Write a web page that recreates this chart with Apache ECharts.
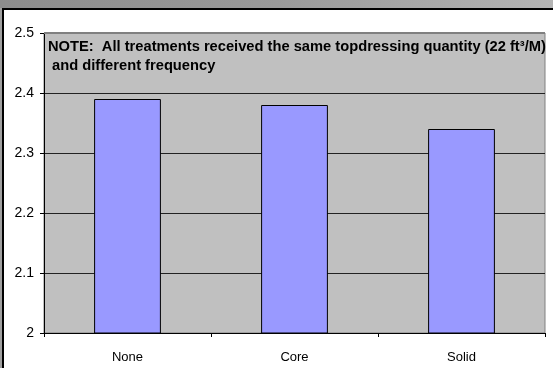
<!DOCTYPE html>
<html>
<head>
<meta charset="utf-8">
<script src="https://cdn.jsdelivr.net/npm/echarts@6/dist/echarts.min.js"></script>
<style>
  html, body { margin: 0; padding: 0; background: #ffffff; }
  #chart { width: 553px; height: 368px; }
</style>
</head>
<body>
<div id="chart"></div>
<script>
// Topdressing frequency treatments and measured values
const categories = ['None', 'Core', 'Solid'];
const values = [2.39, 2.38, 2.34];
const yMin = 2;
const yMax = 2.5;
const yStep = 0.1;
const noteText = 'NOTE:  All treatments received the same topdressing quantity (22 ft\u00b3/M)\n and different frequency';

const chart = echarts.init(document.getElementById('chart'), null, { renderer: 'canvas' });

chart.setOption({
  animation: false,
  backgroundColor: '#ffffff',
  grid: {
    left: 44, top: 33, width: 501, height: 300,
    show: true,
    backgroundColor: '#c0c0c0',
    borderColor: '#808080',
    borderWidth: 1
  },
  xAxis: {
    type: 'category',
    data: categories,
    axisLine: { show: true, lineStyle: { color: '#000000', width: 1 } },
    axisTick: { show: true, length: 4, lineStyle: { color: '#000000' } },
    axisLabel: { color: '#000000', fontFamily: 'Liberation Sans, Arial', fontSize: 13, margin: 18 },
    splitLine: { show: false }
  },
  yAxis: {
    type: 'value',
    min: yMin, max: yMax, interval: yStep,
    axisLine: { show: true, lineStyle: { color: '#000000', width: 1 } },
    axisTick: { show: true, length: 4, lineStyle: { color: '#000000' } },
    axisLabel: { color: '#000000', fontFamily: 'Liberation Sans, Arial', fontSize: 14, margin: 10 },
    splitLine: { show: true, lineStyle: { color: '#222222', width: 1 } }
  },
  series: [{
    type: 'bar',
    data: values,
    barWidth: '40%',
    itemStyle: { color: '#9999ff', borderColor: '#000000', borderWidth: 1 }
  }],
  graphic: [
    // window-style frame: shaded strip on top, dark rules along top and left
    {
      type: 'rect', left: 0, top: 0, silent: true,
      shape: { width: 553, height: 8 },
      style: {
        fill: new echarts.graphic.LinearGradient(0, 0, 1, 0, [
          { offset: 0, color: '#8c8c8c' },
          { offset: 0.5, color: '#9a9a9a' },
          { offset: 1, color: '#b4b4b4' }
        ])
      }
    },
    { type: 'rect', left: 0, top: 8, silent: true, shape: { width: 553, height: 2 }, style: { fill: '#000000' } },
    { type: 'rect', left: 0, top: 8, silent: true, shape: { width: 2, height: 360 }, style: { fill: '#a0a0a0' } },
    { type: 'rect', left: 2, top: 8, silent: true, shape: { width: 2, height: 360 }, style: { fill: '#000000' } },
    // plot frame: heavier grey rule along the top and left edges
    { type: 'rect', left: 44, top: 32, silent: true, z: 5, shape: { width: 501, height: 2 }, style: { fill: '#808080' } },
    {
      type: 'text', left: 48, top: 37, silent: true, z: 10,
      style: {
        text: noteText,
        fill: '#000000',
        font: 'bold 14.7px "Liberation Sans", Arial, sans-serif',
        lineHeight: 19
      }
    }
  ]
});
</script>
</body>
</html>
